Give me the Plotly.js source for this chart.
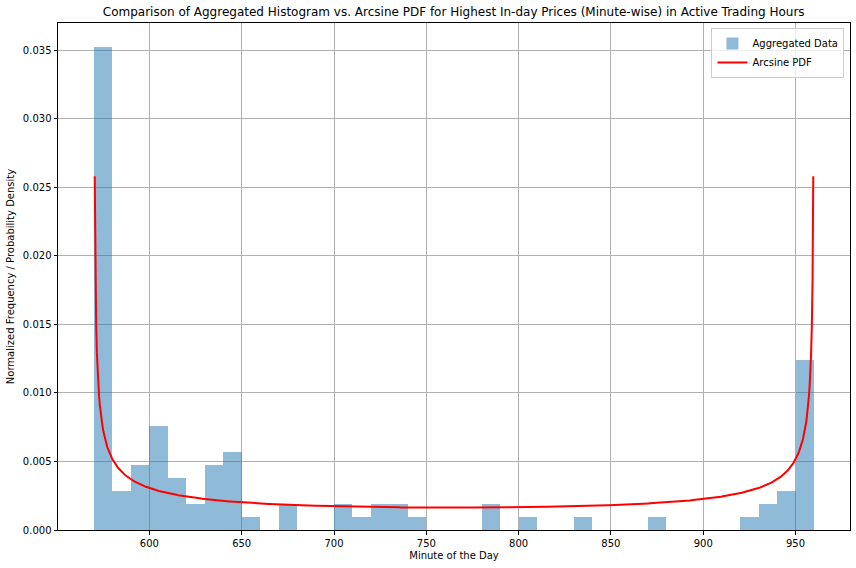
<!DOCTYPE html>
<html><head><meta charset="utf-8">
<script src="https://cdn.plot.ly/plotly-3.0.1.min.js"></script>
<style>html,body{margin:0;padding:0;background:#fff}#c{width:856px;height:568px}</style>
</head><body><div id="c"></div>
<script>
// Histogram bins (minute of day), width 10, from 570 to 960
const binStart = 570;
const binWidth = 10;
const binCounts = [37,3,5,8,4,2,5,6,1,0,2,0,0,2,1,2,2,1,0,0,0,2,0,1,0,0,1,0,0,0,1,0,0,0,0,1,2,3,13];
// Arcsine distribution support
const arcA = 570;
const arcB = 960;
const nCurve = 1000;

const total = binCounts.reduce((s,v)=>s+v,0);
const barX = binCounts.map((_,i)=>binStart + binWidth*(i+0.5));
const barY = binCounts.map(c=>c/(total*binWidth));

const lx = [], ly = [];
for (let k=1;k<nCurve-1;k++){
  const x = arcA + (arcB-arcA)*k/(nCurve-1);
  lx.push(x);
  ly.push(1/(Math.PI*Math.sqrt((x-arcA)*(arcB-x))));
}

const font = {family:'DejaVu Sans, sans-serif', size:10, color:'#000'};
const data = [
  {type:'bar', x:barX, y:barY, width:binWidth, name:'Aggregated Data',
   marker:{color:'rgba(31,119,180,0.5)', line:{width:0}}, hoverinfo:'x+y'},
  {type:'scatter', mode:'lines', x:lx, y:ly, name:'Arcsine PDF',
   line:{color:'#ff0000', width:2}}
];
const layout = {
  width:856, height:568,
  margin:{l:58, r:6, t:23, b:38},
  paper_bgcolor:'#fff', plot_bgcolor:'#fff',
  font: font,
  bargap:0,
  showlegend:true,
  title:{text:'Comparison of Aggregated Histogram vs. Arcsine PDF for Highest In-day Prices (Minute-wise) in Active Trading Hours',
    font:{family:'DejaVu Sans, sans-serif', size:12, color:'#000'}, x:0.53, xanchor:'center', y:0.979, yanchor:'middle'},
  xaxis:{range:[550.5,979.5], tickmode:'array', tickvals:[600,650,700,750,800,850,900,950],
    showgrid:true, gridcolor:'#b0b0b0', gridwidth:1, zeroline:false,
    showline:true, linecolor:'#000', linewidth:1, mirror:true,
    ticks:'outside', ticklen:3.5, tickcolor:'#000', tickfont:font,
    title:{text:'Minute of the Day', font:font, standoff:4}},
  yaxis:{range:[0,0.0370], tickmode:'array', tickvals:[0,0.005,0.01,0.015,0.02,0.025,0.03,0.035],
    tickformat:'.3f',
    showgrid:true, gridcolor:'#b0b0b0', gridwidth:1, zeroline:false,
    showline:true, linecolor:'#000', linewidth:1, mirror:true,
    ticks:'outside', ticklen:3.5, tickcolor:'#000', tickfont:font,
    title:{text:'Normalized Frequency / Probability Density', font:font, standoff:6}},
  legend:{x:0.993, y:0.99, xanchor:'right', yanchor:'top', bgcolor:'rgba(255,255,255,0.8)',
    bordercolor:'#cccccc', borderwidth:1, font:font, tracegroupgap:0, itemwidth:30}
};
Plotly.newPlot('c', data, layout, {displayModeBar:false, staticPlot:true});
</script>
</body></html>
